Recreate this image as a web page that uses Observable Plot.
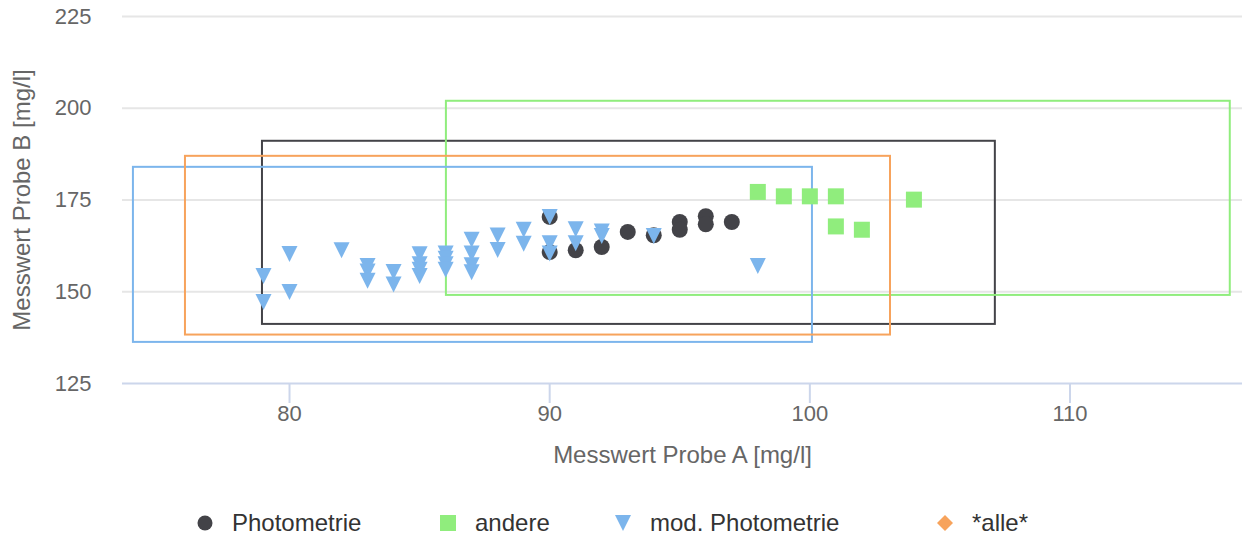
<!DOCTYPE html>
<html>
<head>
<meta charset="utf-8">
<script src="https://cdn.jsdelivr.net/npm/d3@7"></script>
<script src="https://cdn.jsdelivr.net/npm/@observablehq/plot@0.6"></script>
<style>
  html, body { margin: 0; padding: 0; background: #ffffff; }
  body { width: 1242px; height: 543px; overflow: hidden; font-family: "Liberation Sans", Arial, sans-serif; }
  #legend { position: relative; width: 1242px; height: 43px; color: #333333; font-size: 24px; }
  .item { position: absolute; top: 1px; height: 43px; display: flex; align-items: center; white-space: nowrap; }
  .item svg { margin-right: 19px; }
</style>
</head>
<body>
<div id="chart"></div>
<div id="legend"></div>
<script>
// ---- data ----
const seriesNames = ["Photometrie", "andere", "mod. Photometrie", "*alle*"];
const seriesColors = ["#434348", "#90ed7d", "#7cb5ec", "#f7a35c"];

const photoX = [90, 90, 91, 92, 93, 94, 95, 95, 96, 96, 97];
const photoY = [170.4, 160.8, 161.3, 162.2, 166.3, 165.4, 169.0, 166.9, 170.6, 168.4, 169.0];

const andereX = [98, 99, 100, 101, 101, 102, 104];
const andereY = [177.2, 176.0, 176.0, 176.0, 167.8, 166.9, 175.1];

const modX = [79, 79, 80, 80, 82, 83, 83, 83, 84, 84, 85, 85, 85, 85, 86, 86, 86, 86,
              87, 87, 87, 87, 88, 88, 89, 89, 90, 90, 90, 91, 91, 92, 92, 94, 98];
const modY = [154.3, 147.2, 160.3, 149.9, 161.3, 157.0, 155.5, 153.0, 155.4, 152.0,
              160.2, 157.5, 156.0, 154.3, 160.4, 159.0, 157.5, 156.0,
              164.2, 160.4, 157.2, 155.3, 165.3, 161.4, 166.9, 163.1,
              170.4, 163.2, 160.4, 167.0, 163.2, 166.4, 165.2, 165.2, 157.0];

// range boxes per series: [xMin, xMax, yMin, yMax]
const boxPhoto  = [78.96, 107.13, 141.1, 191.0];
const boxAndere = [86.03, 116.16, 149.0, 201.9];
const boxMod    = [74.0, 100.1, 136.2, 183.9];
const boxAlle   = [76.0, 103.1, 138.2, 186.9];

const xTicks = [80, 90, 100, 110];
const yTicks = [125, 150, 175, 200, 225];
const xDomain = [73.58, 116.63];
const yDomain = [125, 225];

const xTitle = "Messwert Probe A [mg/l]";
const yTitle = "Messwert Probe B [mg/l]";

// ---- build tables ----
const toPoints = (xs, ys, s) => xs.map((x, i) => ({x, y: ys[i], s}));
const photoPts = toPoints(photoX, photoY, seriesNames[0]);
const anderePts = toPoints(andereX, andereY, seriesNames[1]);
const modPts = toPoints(modX, modY, seriesNames[2]);
const boxes = [boxPhoto, boxAndere, boxMod, boxAlle].map((b, i) => ({
  x1: b[0], x2: b[1], y1: b[2], y2: b[3], color: seriesColors[i]
}));

// Highcharts-like symbols (bounding-box centred)
const rOf = size => Math.sqrt(size / Math.PI);
const symCircle = {draw(ctx, size) { const r = rOf(size); ctx.moveTo(r, 0); ctx.arc(0, 0, r, 0, 2 * Math.PI); }};
const symSquare = {draw(ctx, size) { const r = rOf(size); ctx.rect(-r, -r, 2 * r, 2 * r); }};
const symTriDown = {draw(ctx, size) { const r = rOf(size); ctx.moveTo(-r, -r); ctx.lineTo(r, -r); ctx.lineTo(0, r); ctx.closePath(); }};

const chart = Plot.plot({
  width: 1242,
  height: 500,
  marginLeft: 122,
  marginRight: 0,
  marginTop: 16,
  marginBottom: 117,
  style: {fontFamily: "'Liberation Sans', Arial, sans-serif", background: "#ffffff"},
  x: {domain: xDomain},
  y: {domain: yDomain},
  marks: [
    Plot.gridY(yTicks.slice(1), {stroke: "#e6e6e6", strokeWidth: 2, strokeOpacity: 1}),
    Plot.ruleY([yDomain[0]], {stroke: "#ccd6eb", strokeWidth: 2}),
    Plot.axisX(xTicks, {tickSize: 20, tickPadding: 2, stroke: "#ccd6eb", strokeWidth: 2, strokeOpacity: 1,
      fill: "#666666", fontSize: 22, label: null, tickFormat: d => String(d)}),
    Plot.axisY(yTicks, {tickSize: 0, tickPadding: 31, fill: "#666666", fontSize: 22, label: null, tickFormat: d => String(d)}),
    Plot.text([xTitle], {frameAnchor: "bottom", dy: 79, fontSize: 24, fill: "#666666"}),
    Plot.text([yTitle], {frameAnchor: "left", dx: -100, rotate: -90, textAnchor: "middle", fontSize: 24, fill: "#666666"}),
    Plot.rect(boxes, {x1: "x1", x2: "x2", y1: "y1", y2: "y2", stroke: "color", fill: "none", strokeWidth: 2}),
    Plot.dot(photoPts, {x: "x", y: "y", r: 8, symbol: symCircle, fill: seriesColors[0], stroke: "none"}),
    Plot.dot(anderePts, {x: "x", y: "y", r: 8, symbol: symSquare, fill: seriesColors[1], stroke: "none"}),
    Plot.dot(modPts, {x: "x", y: "y", r: 8, symbol: symTriDown, fill: seriesColors[2], stroke: "none"})
  ]
});
document.getElementById("chart").appendChild(chart);

// ---- legend ----
const legendLefts = [197, 440, 615, 937];
const legendSyms = [
  c => `<circle cx="8" cy="8" r="7.5" fill="${c}"/>`,
  c => `<rect x="0" y="0" width="16" height="16" fill="${c}"/>`,
  c => `<path d="M0,0L16,0L8,16Z" fill="${c}"/>`,
  c => `<path d="M8,0L16,8L8,16L0,8Z" fill="${c}"/>`
];
const legend = document.getElementById("legend");
seriesNames.forEach((name, i) => {
  const div = document.createElement("div");
  div.className = "item";
  div.style.left = legendLefts[i] + "px";
  div.innerHTML = `<svg width="16" height="16" viewBox="0 0 16 16">${legendSyms[i](seriesColors[i])}</svg><span>${name}</span>`;
  legend.appendChild(div);
});
</script>
</body>
</html>
